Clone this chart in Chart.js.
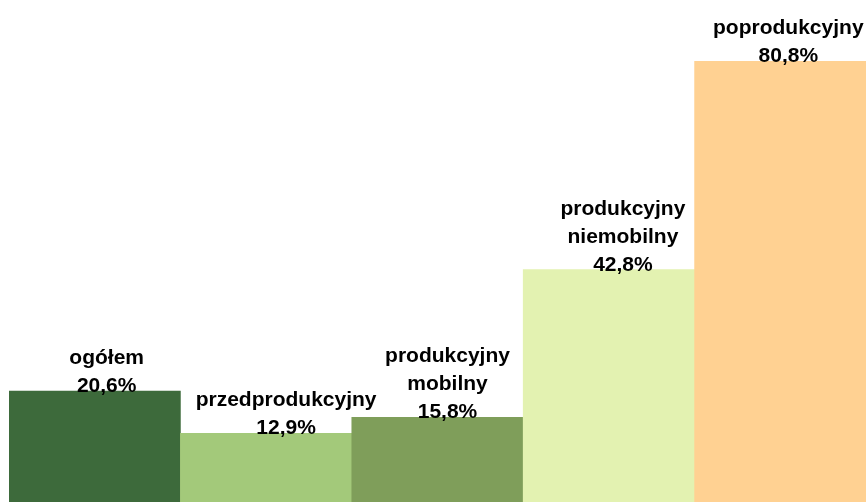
<!DOCTYPE html>
<html>
<head>
<meta charset="utf-8">
<script src="https://cdn.jsdelivr.net/npm/chart.js@4/dist/chart.umd.min.js"></script>
<style>
  html, body { margin: 0; padding: 0; background: #fff; }
  #wrap { width: 867px; height: 502px; overflow: hidden; }
</style>
</head>
<body>
<div id="wrap"><canvas id="chart" width="867" height="504"></canvas></div>
<script>
// grupy wieku i odsetek
const categories = [
  ['ogółem'],
  ['przedprodukcyjny'],
  ['produkcyjny', 'mobilny'],
  ['produkcyjny', 'niemobilny'],
  ['poprodukcyjny']
];
const values = [20.6, 12.9, 15.8, 42.8, 80.8];
const barColors = ['#3d6a3b', '#a3c97a', '#7f9e5a', '#e3f2b1', '#ffd192'];

// przesunięcie etykiet w poziomie (px)
const labelNudge = [12, 20, 10, 14, 8];

const fmt = v => v.toFixed(1).replace('.', ',') + '%';

const barLabels = {
  id: 'barLabels',
  afterDatasetsDraw(chart) {
    const ctx = chart.ctx;
    const meta = chart.getDatasetMeta(0);
    ctx.save();
    ctx.font = 'bold 21px "Liberation Sans", Arial, sans-serif';
    ctx.fillStyle = '#000';
    ctx.textAlign = 'center';
    ctx.textBaseline = 'alphabetic';
    meta.data.forEach((bar, i) => {
      const lines = categories[i].concat([fmt(values[i])]);
      const x = bar.x + labelNudge[i];
      let y = bar.y + 1;
      for (let k = lines.length - 1; k >= 0; k--) {
        ctx.fillText(lines[k], x, y);
        y -= 28;
      }
    });
    ctx.restore();
  }
};

new Chart(document.getElementById('chart'), {
  type: 'bar',
  data: {
    labels: categories.map(c => c.join(' ')),
    datasets: [{
      data: values,
      backgroundColor: barColors,
      borderWidth: 0,
      barPercentage: 1,
      categoryPercentage: 1
    }]
  },
  options: {
    responsive: false,
    animation: false,
    layout: { padding: { left: 9, right: 1, top: 0, bottom: 0 } },
    plugins: { legend: { display: false }, tooltip: { enabled: false } },
    scales: {
      x: { display: false },
      y: { display: false, min: 0, max: 92 }
    }
  },
  plugins: [barLabels]
});
</script>
</body>
</html>
